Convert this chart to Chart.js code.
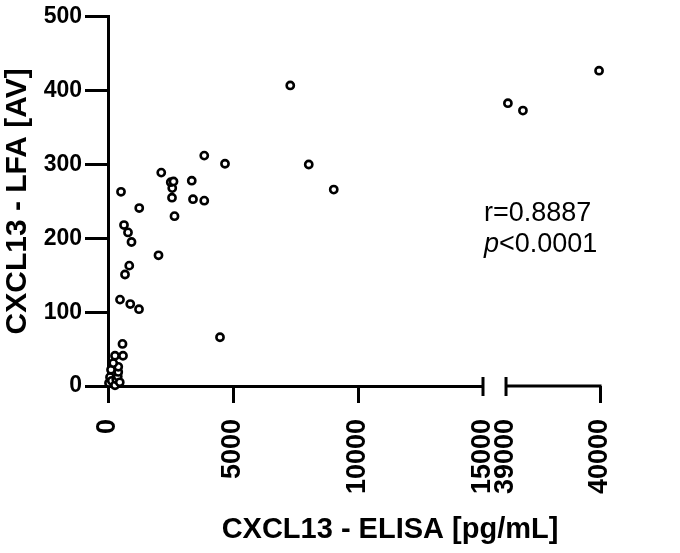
<!DOCTYPE html>
<html>
<head>
<meta charset="utf-8">
<script src="https://cdn.jsdelivr.net/npm/chart.js@4"></script>
<style>
  html, body { margin: 0; padding: 0; background: #fff; }
  #wrap { width: 680px; height: 553px; }
</style>
</head>
<body>
<div id="wrap"><canvas id="chart" width="680" height="553"></canvas></div>
<script>
// 데이터 (ELISA pg/mL, LFA AV)
const elisaLow = [
  40, 80, 150, 280, 330, 390, 470, 410, 410, 120, 210, 280, 600, 580,
  480, 890, 1240, 680, 850, 4480, 2020, 940, 800, 640, 2660, 1250, 520,
  2560, 3400, 3850, 2570, 2510, 2620, 3350, 2130, 4680, 3850,
  9030, 8030, 7290
];
const lfaLow = [
  4, 12, 7, 1, 9, 13, 5, 19, 26, 22, 31, 41, 41, 57,
  117, 111, 104, 151, 163, 66, 177, 195, 208, 218, 230, 241, 263,
  255, 253, 251, 268, 276, 277, 278, 289, 301, 312,
  266, 300, 407
];
const elisaHigh = [39020, 39180, 39990];
const lfaHigh = [383, 373, 427];

const xTicksLow = [0, 5000, 10000, 15000];
const xTicksHigh = [39000, 40000];
const yTicks = [0, 100, 200, 300, 400, 500];
const breakLow = 15000;
const breakHigh = 39000;

const xTitle = 'CXCL13 - ELISA [pg/mL]';
const yTitle = 'CXCL13 - LFA [AV]';
const rText = 'r=0.8887';
const pLetter = 'p';
const pRest = '<0.0001';

const FONT = '"Liberation Sans", Arial, Helvetica, sans-serif';

// 축 끊김 표시 + 텍스트
const brokenAxisPlugin = {
  id: 'brokenAxis',
  beforeDatasetsDraw(chart) {
    const { ctx, scales } = chart;
    const xs = scales.x, xh = scales.x2;
    const yLine = xs.top;
    ctx.save();
    ctx.strokeStyle = '#000';
    ctx.lineWidth = 3;
    // 두번째 구간 축선
    ctx.beginPath();
    ctx.moveTo(xh.getPixelForValue(breakHigh), yLine);
    ctx.lineTo(xh.getPixelForValue(xh.max) + 1.5, yLine);
    ctx.stroke();
    // 끊김 표시
    [xs.getPixelForValue(breakLow), xh.getPixelForValue(breakHigh)].forEach(px => {
      ctx.beginPath();
      ctx.moveTo(px, yLine - 9);
      ctx.lineTo(px, yLine + 10);
      ctx.stroke();
    });
    ctx.restore();
  },
  afterDraw(chart) {
    const { ctx } = chart;
    ctx.save();
    ctx.fillStyle = '#000';
    ctx.textBaseline = 'alphabetic';
    // x축 제목
    ctx.font = 'bold 29px ' + FONT;
    ctx.textAlign = 'center';
    ctx.fillText(xTitle, 390, 538);
    // 상관계수
    ctx.textAlign = 'left';
    ctx.font = '27px ' + FONT;
    ctx.fillText(rText, 484, 221);
    ctx.font = 'italic 27px ' + FONT;
    ctx.fillText(pLetter, 484, 252);
    const pw = ctx.measureText(pLetter).width;
    ctx.font = '27px ' + FONT;
    ctx.fillText(pRest, 484 + pw, 252);
    ctx.restore();
  }
};

const tickColorFor = skip => ctx => (ctx.tick && ctx.tick.value === skip) ? 'rgba(0,0,0,0)' : '#000';

const chart = new Chart(document.getElementById('chart'), {
  type: 'scatter',
  data: {
    datasets: [
      {
        data: elisaLow.map((v, i) => ({ x: v, y: lfaLow[i] })),
        xAxisID: 'x', yAxisID: 'y'
      },
      {
        data: elisaHigh.map((v, i) => ({ x: v, y: lfaHigh[i] })),
        xAxisID: 'x2', yAxisID: 'y'
      }
    ]
  },
  options: {
    responsive: false,
    animation: false,
    devicePixelRatio: 1,
    layout: { padding: { top: 15, right: 80, bottom: 0, left: 0 } },
    datasets: {
      scatter: {
        pointRadius: 3.6,
        pointBorderWidth: 2.6,
        pointBackgroundColor: '#fff',
        pointBorderColor: '#000',
        clip: false
      }
    },
    plugins: {
      legend: { display: false },
      tooltip: { enabled: false }
    },
    scales: {
      y: {
        type: 'linear', position: 'left', min: 0, max: 500,
        afterBuildTicks: s => { s.ticks = yTicks.map(v => ({ value: v })); },
        afterFit: s => { s.width = 108; },
        border: { display: true, color: '#000', width: 3 },
        grid: { drawOnChartArea: false, drawTicks: true, tickLength: 23, tickWidth: 3, tickColor: '#000' },
        ticks: {
          color: '#000', padding: 3,
          font: { family: FONT, size: 23, weight: 'bold' },
          callback: v => String(v)
        },
        title: {
          display: true, text: yTitle, color: '#000',
          font: { family: FONT, size: 30, weight: 'bold' },
          padding: { top: 0, bottom: 0 }
        }
      },
      x: {
        type: 'linear', position: 'bottom', min: 0, max: breakLow,
        stack: 'bottom', stackWeight: 375,
        afterBuildTicks: s => { s.ticks = xTicksLow.map(v => ({ value: v })); },
        afterFit: s => { s.height = 167; },
        border: { display: true, color: '#000', width: 3 },
        grid: { drawOnChartArea: false, drawTicks: true, tickLength: 17, tickWidth: 3, tickColor: tickColorFor(breakLow) },
        ticks: {
          color: '#000', padding: 16, autoSkip: false,
          minRotation: 90, maxRotation: 90,
          font: { family: FONT, size: 27, weight: 'bold' },
          callback: v => String(v)
        }
      },
      x2: {
        type: 'linear', position: 'bottom', min: 38755, max: 40000,
        stack: 'bottom', stackWeight: 117,
        afterBuildTicks: s => { s.ticks = xTicksHigh.map(v => ({ value: v })); },
        afterFit: s => { s.height = 167; },
        border: { display: false },
        grid: { drawOnChartArea: false, drawTicks: true, tickLength: 17, tickWidth: 3, tickColor: tickColorFor(breakHigh) },
        ticks: {
          color: '#000', padding: 16, autoSkip: false,
          minRotation: 90, maxRotation: 90,
          font: { family: FONT, size: 27, weight: 'bold' },
          callback: v => String(v)
        }
      }
    }
  },
  plugins: [brokenAxisPlugin]
});
</script>
</body>
</html>
